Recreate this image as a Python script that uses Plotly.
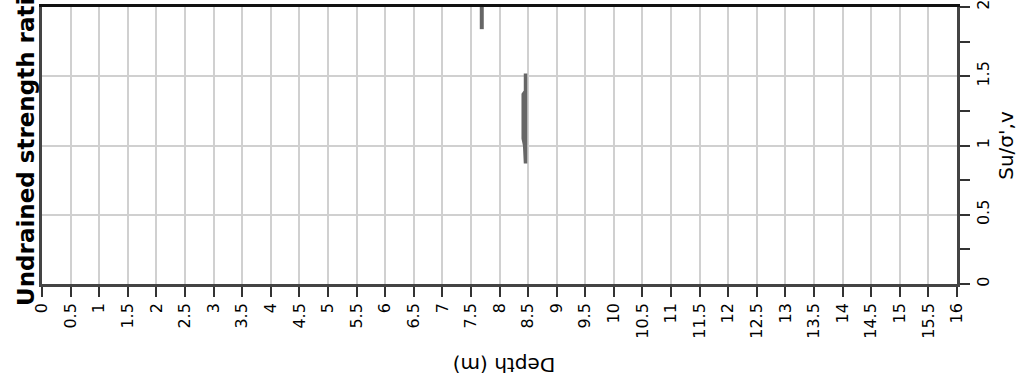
import plotly.graph_objects as go

# Data
seg1_depth = [7.69, 7.69]
seg1_ratio = [1.84, 2.0]
seg2_depth = [8.455, 8.455, 8.44, 8.415, 8.415, 8.45]
seg2_ratio = [1.52, 0.87, 1.0, 1.05, 1.37, 1.39]

x_ticks = [i * 0.5 for i in range(33)]
x_labels = [("%g" % v) for v in x_ticks]
y_ticks = [0, 0.5, 1, 1.5, 2]
y_labels = ["0", "0.5", "1", "1.5", "2"]

FONT = "DejaVu Sans"
LINE_COLOR = "#666666"

fig = go.Figure()
fig.add_trace(go.Scatter(x=seg1_depth, y=seg1_ratio, mode="lines", xaxis="x2",
                         line=dict(color=LINE_COLOR, width=4), showlegend=False))
fig.add_trace(go.Scatter(x=seg2_depth, y=seg2_ratio, mode="lines",
                         line=dict(color=LINE_COLOR, width=3.5), showlegend=False))

fig.update_layout(
    width=1021, height=387,
    margin=dict(l=42, r=64, t=7, b=103),
    paper_bgcolor="white", plot_bgcolor="white",
    font=dict(family=FONT, size=16, color="#000"),
    showlegend=False,
    xaxis=dict(
        range=[0, 16], tickvals=x_ticks, ticktext=x_labels, tickangle=-90,
        ticks="outside", ticklen=10, tickwidth=2, tickcolor="#333",
        showgrid=True, gridcolor="#d0d0d0", gridwidth=1.5,
        showline=True, linecolor="#444", linewidth=2.5, mirror=False,
        zeroline=False, automargin=False, ticklabeloverflow="allow",
        tickfont=dict(family=FONT, size=16, color="#000"),
    ),
    xaxis2=dict(
        range=[0, 16], overlaying="x", side="top", showline=True,
        linecolor="#111", linewidth=2.5, showticklabels=False, ticks="",
        showgrid=False, zeroline=False, automargin=False,
    ),
    yaxis=dict(
        range=[0, 2], side="right", tickvals=y_ticks, ticktext=y_labels, tickangle=-90,
        ticks="outside", ticklen=10, tickwidth=2, tickcolor="#333",
        minor=dict(dtick=0.25, ticks="outside", ticklen=10, tickwidth=2,
                   tickcolor="#333", showgrid=False),
        showgrid=True, gridcolor="#d0d0d0", gridwidth=1.5,
        showline=True, linecolor="#444", linewidth=2.5, mirror=True,
        zeroline=False, automargin=False, ticklabeloverflow="allow",
        tickfont=dict(family=FONT, size=16, color="#000"),
        title=dict(text="Su/σ',v", font=dict(family=FONT, size=20, color="#000"), standoff=8),
    ),
    annotations=[
        dict(text="Depth (m)", xref="paper", yref="paper", x=0.505, y=-0.292,
             xanchor="center", yanchor="middle", textangle=180, showarrow=False,
             font=dict(family=FONT, size=20, color="#000")),
        dict(text="<b>Undrained strength ratio</b>", xref="paper", yref="paper",
             x=-0.0175, y=-0.0866, xanchor="center", yanchor="bottom", textangle=-90,
             showarrow=False, font=dict(family=FONT, size=23, color="#000")),
    ],
)

fig.write_html("out.html", config={"displayModeBar": False},
               post_script="document.body.style.margin='0';")
